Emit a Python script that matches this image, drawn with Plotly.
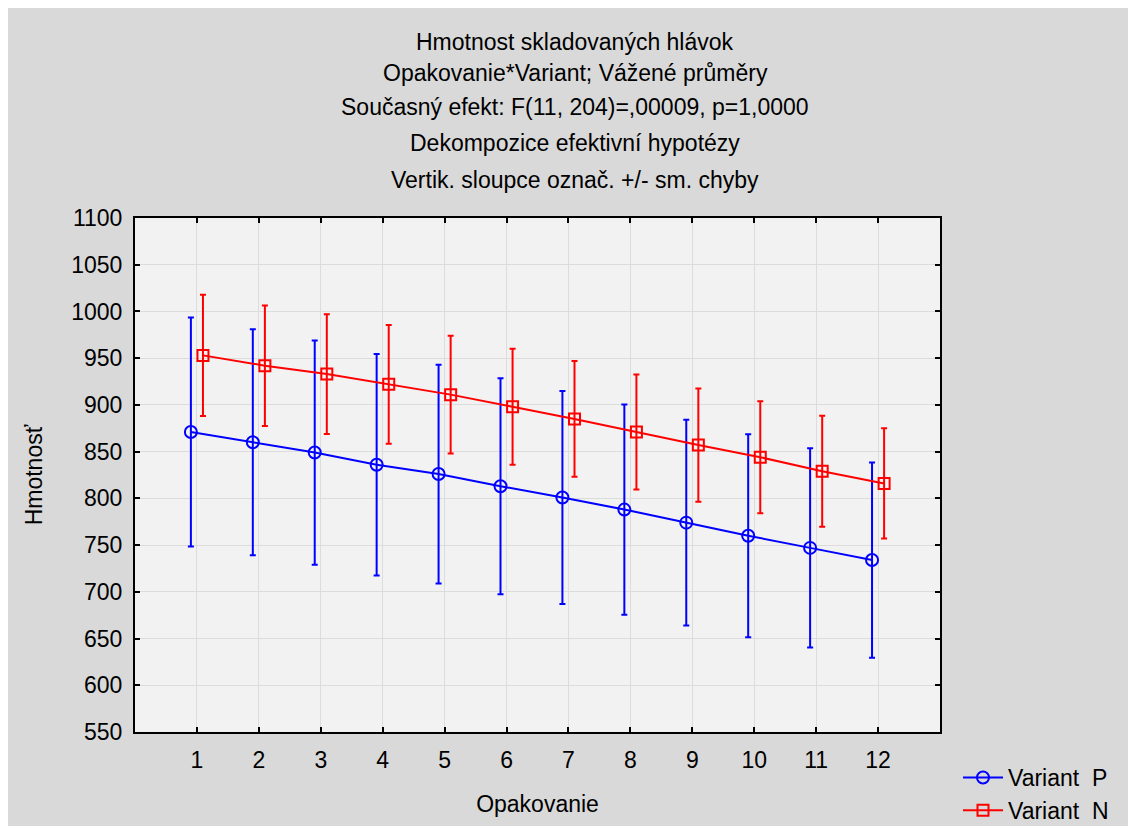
import plotly.graph_objects as go

opakovanie = [1, 2, 3, 4, 5, 6, 7, 8, 9, 10, 11, 12]
variant_p_mean = [871, 860, 849, 836, 826, 813, 801, 788, 774, 760, 747, 734]
variant_p_err = [122.5, 121, 120, 118.5, 117, 115.5, 114, 112.5, 110, 108.5, 106.5, 104.5]
variant_n_mean = [953, 942, 933, 922, 911, 898, 885, 871, 857, 844, 829, 816]
variant_n_err = [65, 64.5, 64, 63.5, 63, 62, 62, 61.5, 60.5, 60, 59.5, 59]

title_lines = [
    "Hmotnost skladovaných hlávok",
    "Opakovanie*Variant; Vážené průměry",
    "Současný efekt: F(11, 204)=,00009, p=1,0000",
    "Dekompozice efektivní hypotézy",
    "Vertik. sloupce označ. +/- sm. chyby",
]
y_ticks = [550, 600, 650, 700, 750, 800, 850, 900, 950, 1000, 1050, 1100]

FONT = "Liberation Sans, Arial, sans-serif"
FS = 23

fig = go.Figure()
fig.add_trace(go.Scatter(
    x=opakovanie, y=variant_p_mean, name="Variant\u00a0\u00a0P",
    mode="lines+markers", offsetgroup="P",
    line=dict(color="#0000ff", width=2),
    marker=dict(symbol="circle-open", size=12, color="#0000ff", line=dict(width=2, color="#0000ff")),
    error_y=dict(type="data", array=variant_p_err, symmetric=True, color="#0000ff", thickness=2, width=3),
))
fig.add_trace(go.Scatter(
    x=opakovanie, y=variant_n_mean, name="Variant\u00a0\u00a0N",
    mode="lines+markers", offsetgroup="N",
    line=dict(color="#ff0000", width=2),
    marker=dict(symbol="square-open", size=11, color="#ff0000", line=dict(width=2, color="#ff0000")),
    error_y=dict(type="data", array=variant_n_err, symmetric=True, color="#ff0000", thickness=2, width=3),
))

W, H = 1126, 818
L, R, T, B = 127, 194, 210, 94
ph = H - T - B
pw = W - L - R

line_y = [42, 73, 107, 143, 180]
annotations = []
for txt, py in zip(title_lines, line_y):
    fy = py - 8
    annotations.append(dict(
        text=txt, xref="paper", yref="paper",
        x=(567 - L) / pw, y=(H - B - fy) / ph,
        xanchor="center", yanchor="middle", showarrow=False,
        font=dict(family=FONT, size=FS, color="black"),
    ))

fig.update_layout(
    width=W, height=H,
    margin=dict(l=L, r=R, t=T, b=B),
    paper_bgcolor="#d9d9d9", plot_bgcolor="#f2f2f2",
    scattermode="group", scattergap=0.61,
    font=dict(family=FONT, size=FS, color="black"),
    annotations=annotations,
    showlegend=True,
    legend=dict(
        xref="container", yref="container",
        x=950 / W, y=1 - 748 / H, xanchor="left", yanchor="top",
        bgcolor="rgba(0,0,0,0)", font=dict(family=FONT, size=FS),
        tracegroupgap=0, itemwidth=40,
    ),
    xaxis=dict(
        range=[0, 13], tickmode="array", tickvals=opakovanie,
        ticktext=[str(v) for v in opakovanie],
        showgrid=True, gridcolor="#dcdcdc", gridwidth=1,
        showline=True, linecolor="black", linewidth=2, mirror="ticks",
        ticks="inside", ticklen=5, tickcolor="black", tickwidth=2,
        zeroline=False, ticklabelstandoff=6,
        title=dict(text="Opakovanie", font=dict(family=FONT, size=FS), standoff=24),
        tickfont=dict(family=FONT, size=FS),
    ),
    yaxis=dict(
        range=[550, 1100], tickmode="array", tickvals=y_ticks,
        showgrid=True, gridcolor="#dcdcdc", gridwidth=1,
        showline=True, linecolor="black", linewidth=2, mirror="ticks",
        ticks="inside", ticklen=5, tickcolor="black", tickwidth=2,
        zeroline=False, ticklabelstandoff=6,
        title=dict(text="Hmotnosť", font=dict(family=FONT, size=FS), standoff=22),
        tickfont=dict(family=FONT, size=FS),
    ),
)

fig.write_html("out.html")
